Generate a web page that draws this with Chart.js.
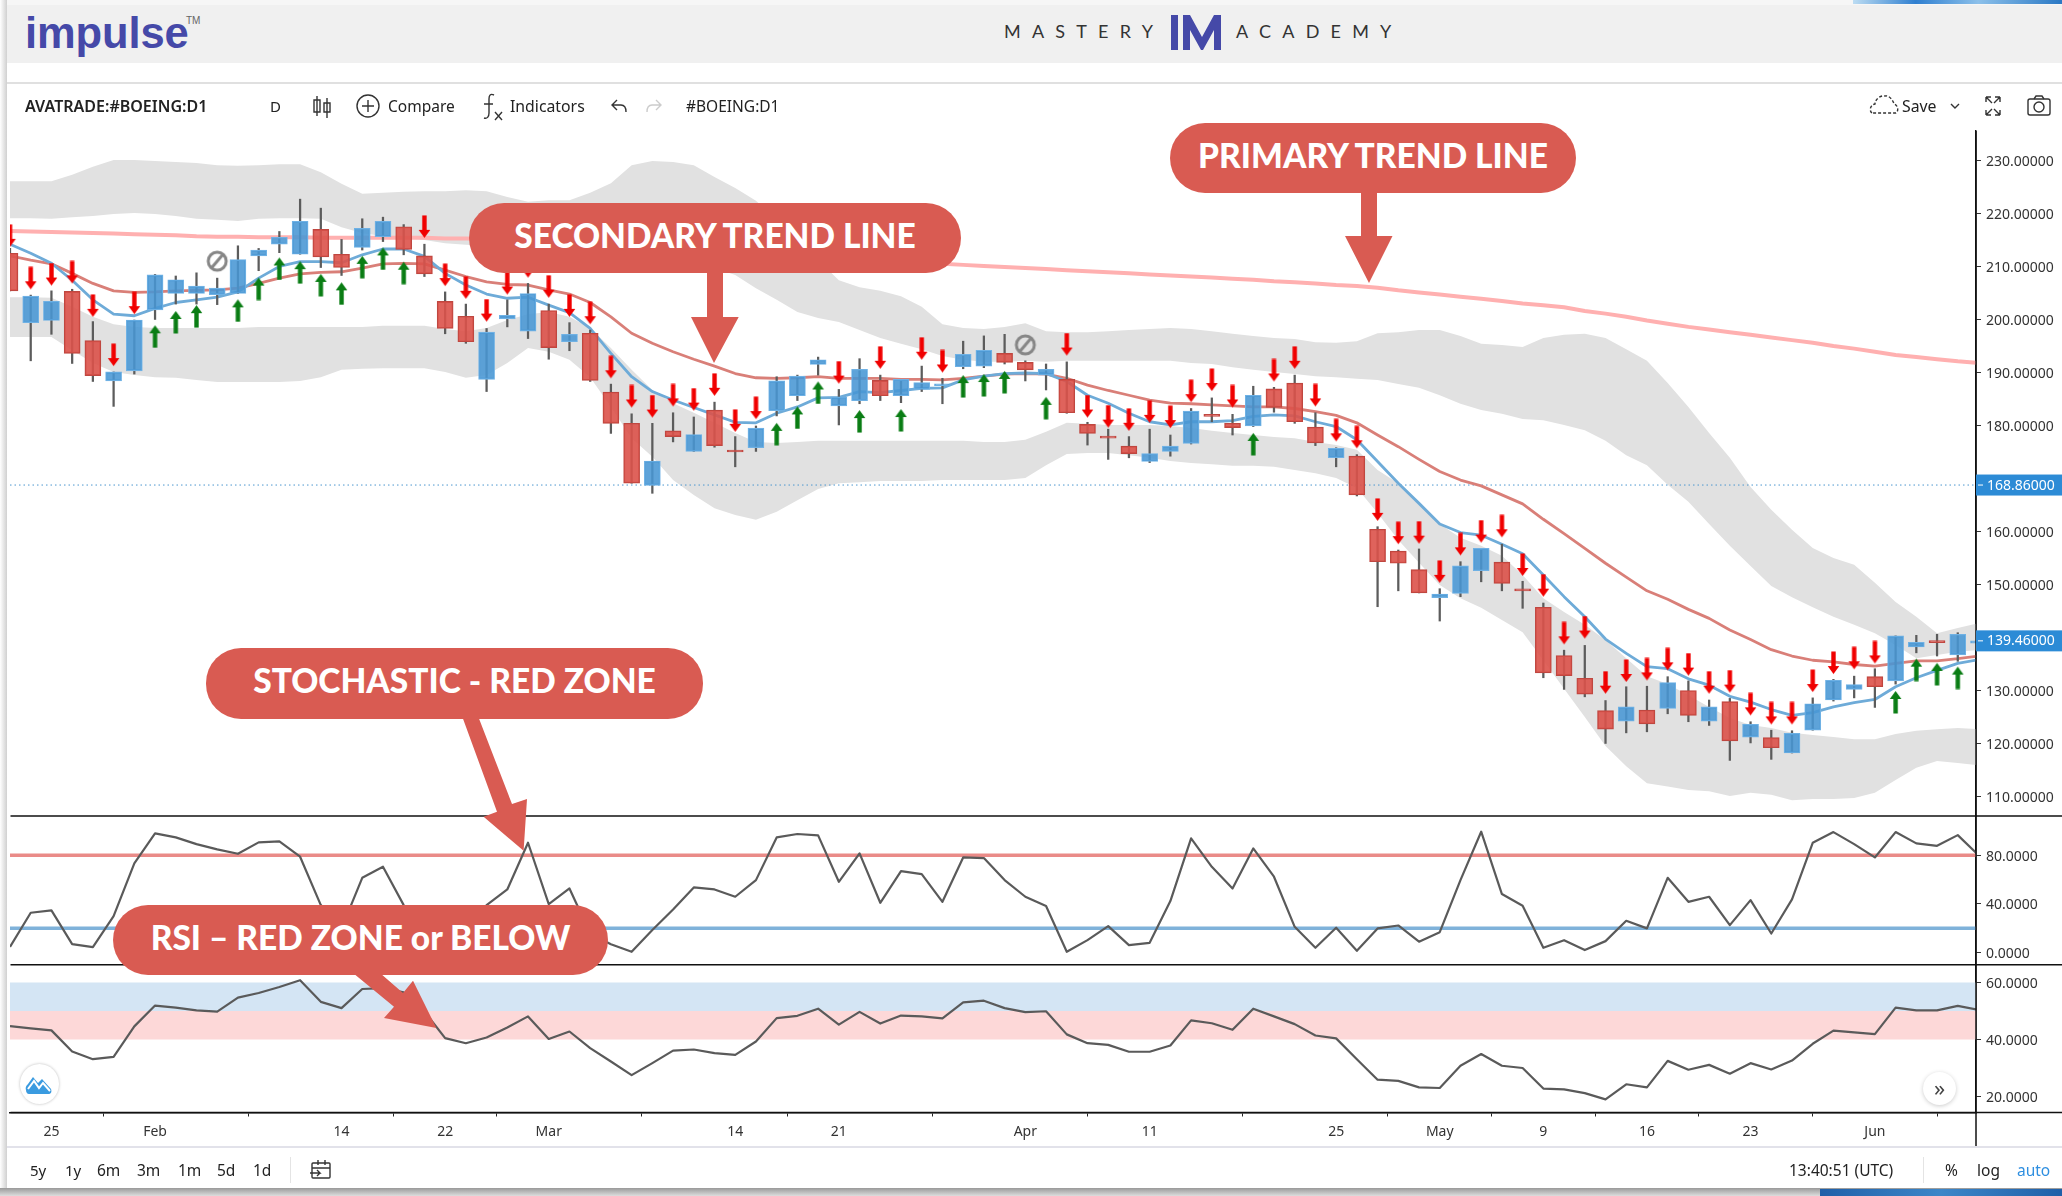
<!DOCTYPE html>
<html><head><meta charset="utf-8">
<script src="https://cdn.jsdelivr.net/npm/chart.js@4"></script>
<style>
html,body{margin:0;padding:0;background:#fff;width:2062px;height:1196px;overflow:hidden;font-family:"Noto Sans",sans-serif;color:#222}
canvas#c{position:absolute;left:0;top:0;z-index:1}
.a{position:absolute;white-space:nowrap;z-index:3}
.t{position:absolute;white-space:nowrap;z-index:3;font-size:15px;line-height:20px;color:#222}
.pill{position:absolute;z-index:5;background:#d95b52;color:#fff;font-family:Lato,sans-serif;font-weight:900;display:flex;align-items:center;justify-content:center;white-space:nowrap;box-sizing:border-box;padding-bottom:7px;font-size:33.5px}
svg.o{position:absolute;left:0;top:0;z-index:4;pointer-events:none}
</style></head><body>
<div class="a" style="left:0;top:0;width:2062px;height:5px;background:#f6f6f6"></div>
<div class="a" style="left:1853px;top:0;width:209px;height:4px;background:linear-gradient(to right,#bcdcf2,#2f7fd0 30%,#8cc0ea 60%,#2a78c4)"></div>
<div class="a" style="left:7px;top:5px;width:2055px;height:58px;background:#f0f0f0"></div>
<div class="a" style="left:0;top:0;width:7px;height:1196px;background:linear-gradient(to right,#fff,#d0d0d0)"></div>
<div class="a" style="left:7px;top:82px;width:2055px;height:1.5px;background:#e0e0e0"></div>
<div class="a" style="left:7px;top:1146px;width:2055px;height:1.5px;background:#e2e2ea"></div>
<div class="a" style="left:0;top:1188px;width:2062px;height:8px;background:linear-gradient(to bottom,#999,#ddd)"></div>
<div class="a" style="left:1820px;top:1189px;width:242px;height:7px;background:linear-gradient(to right,#1f5fa8,#3d86c8 50%,#1f5fa8)"></div>

<div class="a" style="left:25px;top:4px;font:bold 43.5px/58px 'Liberation Sans',sans-serif;color:#4549a8;letter-spacing:-.1px">impulse</div>
<div class="a" style="left:186px;top:15px;font:10px/12px 'Liberation Sans',sans-serif;color:#666">TM</div>
<div class="a" style="left:1004px;top:19px;font:18px/24px Lato,sans-serif;letter-spacing:11.2px;color:#333">MASTERY</div>
<div class="a" style="left:1236px;top:19px;font:18px/24px Lato,sans-serif;letter-spacing:11.2px;color:#333">ACADEMY</div>

<div class="t" style="left:25px;top:96px;font-weight:600;font-size:16px">AVATRADE:#BOEING:D1</div>
<div class="t" style="left:270px;top:96px">D</div>
<div class="t" style="left:388px;top:96px;font-size:15.5px">Compare</div>
<div class="t" style="left:510px;top:96px;font-size:15.8px">Indicators</div>
<div class="t" style="left:686px;top:96px;font-size:15.5px">#BOEING:D1</div>
<div class="t" style="left:1902px;top:96px;font-size:15.8px">Save</div>

<div class="t" style="left:30px;top:1160px;font-size:15px">5y</div>
<div class="t" style="left:65px;top:1160px;font-size:15px">1y</div>
<div class="t" style="left:97px;top:1160px;font-size:15.5px">6m</div>
<div class="t" style="left:137px;top:1160px;font-size:15.5px">3m</div>
<div class="t" style="left:178px;top:1160px;font-size:15.5px">1m</div>
<div class="t" style="left:217px;top:1160px;font-size:15.5px">5d</div>
<div class="t" style="left:253px;top:1160px;font-size:15.5px">1d</div>
<div class="a" style="left:290px;top:1157px;width:1px;height:26px;background:#e4e4e4"></div>
<div class="t" style="left:1789px;top:1160px;font-size:15.5px">13:40:51 (UTC)</div>
<div class="a" style="left:1923px;top:1157px;width:1px;height:26px;background:#e4e4e4"></div>
<div class="t" style="left:1945px;top:1160px;font-size:15.5px">%</div>
<div class="t" style="left:1977px;top:1160px;font-size:15.5px">log</div>
<div class="t" style="left:2017px;top:1160px;font-size:15.5px;color:#2f8fe0">auto</div>

<div class="a" style="left:20px;top:1064px;width:39px;height:40px;border-radius:50%;background:#fff;box-shadow:0 0 3px #bbb;z-index:4"></div>
<div class="a" style="left:1923px;top:1072px;width:33px;height:33px;border-radius:50%;background:#fff;box-shadow:0 1px 4px #ccc;z-index:4;text-align:center;font:22px/30px 'Noto Sans',sans-serif;color:#444">»</div>

<svg class="o" width="2062" height="1196" viewBox="0 0 2062 1196" fill="none" stroke="#333" stroke-width="1.4">
  <g fill="#4549a8" stroke="none"><rect x="1171" y="15" width="7" height="35"/><path d="M1183 15h7l12 22 12-22h7v35h-7V30l-11 20h-2l-11-20v20h-7z"/></g>
  <path d="M317 96v20M314 100h6v12h-6zM327 98v20M324 103h6v9h-6z"/>
  <circle cx="368" cy="106" r="11"/><path d="M362 106h12M368 100v12"/>
  <path d="M494 95c-4-2-5 1-5 4v14c0 4-2 6-5 5M484 104h9M495 112l7 8M502 112l-7 8"/>
  <path d="M617 100l-5 5 5 5M612 105h9c4 0 5 3 5 7"/>
  <path d="M656 100l5 5-5 5M661 105h-9c-4 0-5 3-5 7" stroke="#ccc"/>
  <path d="M1872 113c-3-2-2-8 3-9 0-5 6-9 10-8 4-1 8 4 9 8 4 1 5 7 2 9h-24z" stroke-dasharray="3 2"/>
  <path d="M1951 104l4 4 4-4"/>
  <path d="M1986 97l6 6M1986 97v5M1986 97h5M2000 97l-6 6M2000 97v5M2000 97h-5M1986 115l6-6M1986 115v-5M1986 115h5M2000 115l-6-6M2000 115v-5M2000 115h-5"/>
  <rect x="2028" y="99" width="22" height="16" rx="2"/><circle cx="2039" cy="107" r="5"/><path d="M2034 99l2-3h6l2 3"/>
  <rect x="312" y="1163" width="18" height="15" rx="1"/><path d="M312 1168h18M318 1160v5M325 1160v5M310 1173h10l-3-3M320 1173l-3 3"/>
  <path d="M26 1090c-1-3 1-5 2-6l5-7 5 6 4-4 9 10c1 3 0 5-3 5H29c-2 0-3-2-3-4z" fill="#3a9be0" stroke="none"/><path d="M28 1089l6-8 5 7 4-5 7 8" stroke="#fff" stroke-width="2"/>
  <g fill="#d95b52" stroke="none">
    <path d="M1361 190h16v46h15.5l-23.5 47-24-47h16z"/>
    <path d="M707 270h16v47h15.7L714 363l-23-46h16z"/>
    <path d="M462 716h16L512 804l15-5-3.4 51.7-40-34 13.4-5z"/>
    <path d="M353 973h27L403 993l10-12.3 23.4 47.3-52.4-10 10-11.3z"/>
  </g>
</svg>

<div class="pill" style="left:1170px;top:123px;width:406px;height:70px;border-radius:35px">PRIMARY TREND LINE</div>
<div class="pill" style="left:469px;top:203px;width:492px;height:70px;border-radius:35px">SECONDARY TREND LINE</div>
<div class="pill" style="left:206px;top:648px;width:497px;height:71px;border-radius:35px">STOCHASTIC - RED ZONE</div>
<div class="pill" style="left:113px;top:905px;width:495px;height:70px;border-radius:35px">RSI – RED ZONE or BELOW</div>

<canvas id="c" width="2062" height="1196"></canvas>
<script>
const open=[212.6,199.5,199.9,205.4,196.1,188.5,190.4,201.9,205,205,
204.8,205,212.1,214.3,212.4,217.1,212.4,213.7,215.7,217.6,
212.1,203.5,200.7,188.8,200.2,197.9,201.8,195.9,197.5,186.4,
180.5,168.8,179.1,175.2,183,175.4,175.9,182.9,185.7,191.6,
183.8,184.8,188.6,185.7,186.9,187.6,191.2,191.3,193.7,192,
189.6,188.8,180.3,178,176.2,173.3,175.2,176.7,182,180.5,
180,187,188.1,179.8,174,174.3,160.5,156.4,152.9,147.6,
148.4,152.7,154.3,149.2,145.8,136.7,132.4,126.3,124.3,126.4,
126.7,130.1,124.3,128,121.3,121.2,118.3,122.6,128.3,130.3,
132.7,131.9,138.3,139.5,136.8,139];
const close=[205.5,204.5,203.5,193.7,189.5,190.2,200,208.5,207.6,206.4,
206,211.4,213.2,215.6,218.6,211.9,209.9,217.3,218.6,213.3,
208.7,198.4,195.9,197.7,200.9,205,194.8,197.3,188.6,180.5,
169.2,173.4,178,178.4,176.3,175.1,179.6,188.5,189.4,192.5,
185.5,190.7,185.7,188.8,188.2,187.8,193.5,194.3,192,190.6,
190.7,182.5,178.6,177.7,174.8,174.8,176.2,182.8,181.8,179.7,
185.8,183.5,180.8,176.8,175.8,167,154.4,154.1,148.5,148.3,
153.6,156.9,150.3,148.9,133.4,132.9,129.4,122.8,127,123.8,
131.6,125.4,127,120.6,123.7,119.3,122,127.6,132,131.2,
130.8,140.4,139.2,139.1,140.7,139.46];
const high=[213.5,204.7,205.5,205.8,199.7,190.2,200,208.6,208.3,208.9,
207.9,214,213.5,216.7,222.8,221.1,215.2,219.1,219.4,218,
214.3,205.3,203,198.4,203.8,206.9,203,199.5,198.1,187.9,
182.3,180.5,182.5,181.7,184.5,178,180,189.3,189.6,193,
186.9,192.7,189.6,188.8,191.3,189,196,197,197.3,192.3,
191.7,192.1,180.7,179.4,178,179.4,178.3,183.3,185.3,182.2,
187.5,187.3,189.6,182.5,175.9,174.6,161,156.6,156.8,149.3,
154.4,156.9,157.7,150.7,146.6,137.7,138.6,128.2,130.8,130.9,
132.7,131.9,128.3,128.6,124.2,122.6,122.5,128.7,132.2,132.8,
134.2,140.4,140.5,140.7,141,140.5];
const low=[205.5,192.3,197.3,191.8,188.4,183.7,189.8,200.1,203,203,
202.9,205,209.3,212.7,212.4,209.9,208.4,213.2,214.8,212.3,
208.2,197.4,195.6,186.5,198.7,196.5,192.6,194.2,188.4,178.6,
169.2,167.3,177,175.2,176,172.3,175.2,181.9,184.8,189.6,
180.2,184.2,184.8,184.4,186.5,184.2,190.8,191,191.7,188.5,
186.8,182.4,176.4,173.7,174,173.1,174.3,176.6,180.8,178.3,
179.9,182.6,180.5,176.3,172.3,166.8,145.9,148.9,148.5,143.2,
147.8,150.6,148.9,145.6,132.5,130.3,128.9,120.1,122.1,122.3,
125.7,124.2,123.5,116.9,120.2,117.1,118.3,122.6,128.1,128.7,
126.9,131.3,137.2,136.6,135.6,136];
const upperBandTop=[226.2,226.2,226.2,227.4,228.9,230.2,230.2,230,229.8,229.6,
229.2,229.1,229.2,229.4,229.4,227.9,225.7,223.8,224,224.2,
224.3,224.3,224.5,224.3,223.2,222.3,222.6,222.6,224,225.8,
229.2,230,229.8,229.2,227,224.9,222.5,218.9,215.1,211.3,
207.5,206.2,205.5,204.5,202.5,199.2,198.5,198.3,198.7,199.4,
197.9,197.7,197.7,197.9,198.1,198.3,198.5,198.3,197.9,197.4,
197,196.6,196.4,195.8,195.7,196,197.5,197.7,198.1,198.1,
197,195.5,195.3,194.9,196.6,197.2,197.4,196.6,194.5,192.3,
188.1,183.6,178.7,174,168.5,164.2,160.4,157,155.1,153.8,
150.4,146.8,144,140.9,141.9,142.8];
const upperBandBottom=[219.2,219.2,219.1,219.4,219.6,220,220.2,220,219.6,219.1,
218.9,218.7,219.1,219.2,219.2,219.1,217.5,216.4,215.8,215.5,
215.1,214.5,214.2,214,213.6,213.2,213.2,212.8,212.6,212.5,
212.5,212.1,211.7,210.9,209.8,208.5,206,203.8,201.5,200.4,
199.6,198.1,196.6,195.5,194.5,193.2,192.5,192.1,192.1,192.3,
192.1,192.3,192.3,192.3,192.3,192.3,192.3,191.9,191.7,191.1,
190.6,190.2,189.8,189.4,189.2,188.9,188.7,187.9,187.2,185.8,
184.2,183,182.3,181.3,181.1,180.2,179.2,177.2,174.5,172.6,
168.9,165.7,161.5,157.4,153.6,149.8,147.7,145.8,144,142.5,
140.9,138.7,136.2,136.8,137.4,137.7];
const lowerBandTop=[204.3,204.3,204.2,202.5,200.6,199.2,198.7,198.5,198.5,198.5,
198.5,198.5,198.7,198.7,198.7,198.7,198.7,198.7,198.9,198.9,
198.9,198.3,197.9,198.5,200,201.1,201.5,200.6,198.5,194.7,
190.6,186.8,184.3,182.5,180.6,178.7,177,176.8,177,177.2,
177.2,177.2,177.2,177.2,177.2,177.2,177.2,177,177,177.4,
178.9,180.6,180.4,180.2,180.2,180.2,180,179.6,179.1,178.7,
178.3,177.9,177.7,177,176.4,175.5,171.7,169.2,165.5,161.5,
158.9,157.4,155.5,151.9,147.5,144.9,142.5,139.6,136.2,132.8,
131.3,129.2,127,124.9,123.6,123,122.1,121.7,121.3,120.9,
120.9,121.9,122.5,122.8,123,122.8];
const lowerBandBottom=[196.8,196.8,196.8,194.3,191.9,190.2,189.6,189.2,189.1,188.7,
188.3,188.3,188.3,188.3,188.5,189.2,190.6,190.8,190.9,190.9,
190.9,190.2,189.1,189.6,191.9,194.7,194,192.5,189.2,183.6,
177.7,174.2,169.8,167,164.5,163.2,162.3,163.8,166,168.1,
169.2,169.4,169.6,169.6,169.6,169.8,169.8,169.8,169.8,170.2,
172.6,174.7,174.9,174.9,174.5,174,173.4,173,172.8,172.5,
172.5,172.3,171.7,171.1,170.2,168.3,163.6,158.5,154.2,150,
147.5,145.7,143.4,141.1,135.8,130.4,125.1,119.6,115.8,112.6,
112,111.3,111.1,110.2,110.8,110.4,109.4,109.6,109.6,109.8,
110.8,113.2,115.5,116.8,116.4,116];
const primaryTrend=[216.8,216.7,216.6,216.5,216.4,216.3,216.2,216.1,216,215.8,
215.7,215.7,215.6,215.6,215.6,215.5,215.5,215.5,215.5,215.5,
215.5,215.4,215.4,215.3,215.3,215.1,214.9,214.7,214.4,214.2,
214,213.8,213.5,213.3,213.1,212.9,212.6,212.4,212.2,212,
211.7,211.5,211.3,211.1,210.8,210.6,210.4,210.2,210,209.8,
209.6,209.4,209.2,209,208.8,208.6,208.4,208.2,208,207.8,
207.6,207.3,207.1,206.9,206.6,206.4,206.1,205.6,205.2,204.8,
204.4,204,203.6,203.1,202.8,202.4,201.7,201.2,200.6,199.9,
199.3,198.7,198.2,197.7,197.2,196.7,196.2,195.7,195.1,194.6,
194,193.4,193,192.6,192.2,191.9];
const fastLine=[214.3,212.6,210.7,207.5,203.8,201.1,200.8,202.2,203.3,203.8,
204.3,205.3,207.9,210.1,211,211,210.8,212.3,213.4,213.4,
212,208.8,206.6,204.9,204.1,204.3,202.8,201.4,198.4,193.7,
189.3,186.5,184.9,183.5,182.1,180.7,180.6,182.4,183.6,185.3,
185.4,186.5,186.3,186.7,187.1,187.2,188.7,189.4,189.9,190,
189.9,188.4,185.8,184.3,182.4,180.8,180.2,180.8,180.8,181,
181.8,182.1,181.9,180.8,179.9,177.4,173.3,169.2,165.4,161.5,
159.9,159.4,157.7,155.9,151.9,147.8,144,139.8,137.1,134.6,
134.2,132.3,131.1,129,127.9,126.5,125.4,125.9,127,127.8,
128.4,130.8,132.5,133.9,135.2,135.9];
const secondaryTrend=[212.1,211.3,210.6,208.8,206.9,205.5,205.2,205.3,205.5,205.6,
205.7,206,206.9,207.9,208.7,209,209.1,209.8,210.6,210.7,
210.6,209.4,208.2,207.2,206.7,206.6,205.7,204.9,203.3,200.6,
197.5,195.6,194,192.6,191.3,189.9,189.1,189,189.1,189.3,
189,189,189,188.8,188.8,188.7,189,189.4,189.8,189.9,
189.8,189,187.7,186.7,185.8,184.9,184.3,184.2,184,183.8,
183.6,183.6,183.3,182.7,182,180.6,178.3,176.1,173.7,171.4,
169.8,168.7,167,165.3,162.4,159.7,156.9,154.1,151.5,148.9,
147.3,145.4,143.7,141.5,139.7,137.8,136.6,135.8,135.5,135,
134.7,135.2,135.7,135.7,136.1,136.6];
const stochastic=[4.6,32.7,34.6,6.8,4.4,29.9,73.4,98.1,94.8,89.3,
84.9,81.3,90.7,91.5,78.9,39,19.8,61.5,70.6,39,
18.4,4.6,15.6,39,51.9,90.4,39.8,52.7,15.6,6.8,
0.5,18.4,35.4,53.6,51.9,45.9,59.6,94.8,97.6,96.5,
58.2,81.6,40.9,67,64.6,41.7,78.3,77.8,59.6,45.9,
38.2,0.5,10.1,21.7,6,7.9,42.3,94,70.6,52.7,
85.7,62.4,21.1,3.8,20.3,1.3,19.8,22.2,8.8,16.7,
59.6,99.5,48.1,38.5,3.8,10.1,1.9,9.3,26.1,19.8,
61.5,41.7,45.9,22.5,43.1,15.6,43.7,90.4,99.2,89.3,
78.3,99.2,89.9,87.9,96.7,80.2];
const rsi=[44.7,43.9,43.2,35.8,33.1,33.9,44.6,51.9,51.2,50.2,
49.8,54.7,56.3,58.4,60.8,53.2,51,57.7,58,56.5,
49.8,40.5,38.7,40.7,44.2,48.1,40.2,42.8,37,32.3,
27.5,31.7,36.1,36.5,35.2,34.6,39.3,47.5,48.3,50.8,
45.2,49.7,45.6,48.4,48.1,47.4,53,53.6,51,49.6,
49.9,41.8,38.7,38.1,35.7,35.7,37.9,46.7,45.7,43.4,
50.8,48.1,45.4,41.4,40.4,33.1,25.9,25.5,23.2,23,
30.8,34.9,30.8,30,22.8,22.5,21.2,19,24.3,23.2,
32.5,29.4,31.1,28,31.7,29.5,32.6,38.5,43.1,42.5,
41.9,51.2,50.2,50.2,51.8,50.4];
const sellBars=[0,1,2,3,4,5,6,20,21,22,23,24,25,26,27,28,29,30,31,32,33,34,35,36,40,42,44,45,51,52,53,54,55,56,57,58,59,61,62,63,64,65,66,67,68,69,70,71,72,73,74,75,76,77,78,79,80,81,82,83,84,85,86,87,88,89,90];
const sellTips=[213.8,205.8,206.5,206.9,200.6,191.3,201.1,215.5,206.4,204,199.7,204.8,208,204.2,200.6,199.2,189,183.5,181.6,183.7,182.9,185.7,178.9,181.3,188,190.8,192.5,190.1,193.3,181.6,179.7,179.1,180.6,179.6,184.5,186.6,183.5,188.4,190.8,183.7,177.1,175.8,162.1,157.7,157.8,150.4,155.6,158,159,151.7,147.8,138.8,139.9,129.5,131.7,132,133.9,132.9,129.5,129.7,125.4,123.7,123.7,129.8,133.2,134.1,135.2];
const buyBars=[7,8,9,11,12,13,14,15,16,17,18,19,37,38,39,41,43,46,47,48,50,60,91,92,93,94];
const buyTips=[199,201.7,202.8,203.9,208,211.8,211.1,208.7,207.1,212.1,213.7,211,180.6,183.7,188.4,183,183.2,189.6,189.8,190.4,185.5,178.7,130,136.1,135.3,134.6];
const neutralBars=[10,49];
const neutralLevels=[211.1,195.3];
const xTickBars=[2,7,16,21,26,35,40,49,55,64,69,74,79,84,90];
const xTickLabels=['25','Feb','14','22','Mar','14','21','Apr','11','25','May','9','16','23','Jun'];
const priceTicks=[110,120,130,150,160,180,190,200,210,220,230];
const stochTicks=[0,40,80];
const rsiTicks=[20,40,60];
const priceLevels=[168.86,139.46];
const stochLevels=[80,20];
const rsiZones=[60,50,40];
const lastBar=94.88;

const series=a=>a.map((y,x)=>({x,y}));
const flat=v=>[{x:0,y:v},{x:95,y:v}];
function arrowImg(down,color){
  const w=13,h=46,c=document.createElement('canvas');c.width=w;c.height=h;
  const g=c.getContext('2d');g.fillStyle=color;
  const m=w/2;
  g.beginPath();
  if(down){g.moveTo(m,23);g.lineTo(m+5.8,15);g.lineTo(m+2.2,15);g.lineTo(m+2.2,0.5);g.lineTo(m-2.2,0.5);g.lineTo(m-2.2,15);g.lineTo(m-5.8,15);}
  else{g.moveTo(m,23);g.lineTo(m+5.8,31);g.lineTo(m+2.2,31);g.lineTo(m+2.2,45.5);g.lineTo(m-2.2,45.5);g.lineTo(m-2.2,31);g.lineTo(m-5.8,31);}
  g.closePath();g.fill();return c;
}
function neutralImg(){
  const c=document.createElement('canvas');c.width=24;c.height=24;
  const g=c.getContext('2d');g.strokeStyle='#868686';g.lineWidth=3;
  g.beginPath();g.arc(12,12,9,0,Math.PI*2);g.stroke();
  g.beginPath();g.moveTo(17.5,5.5);g.lineTo(6.5,18.5);g.stroke();return c;
}
const BLUE='rgba(72,150,212,.88)',BLUEB='#6fb1e4',RED='rgba(220,82,74,.9)',REDB='#bf4740';
const up=open.map((o,i)=>close[i]>=o);
const lineDs=(data,color,w,order,axis='y')=>({type:'line',data,borderColor:color,borderWidth:w,pointRadius:0,tension:0,fill:false,order,yAxisID:axis,borderJoinStyle:'round'});
const bandDs=(data,fill,color,order,axis='y')=>({type:'line',data,borderWidth:0,borderColor:'transparent',pointRadius:0,tension:0,fill,backgroundColor:color,order,yAxisID:axis});
const markDs=(bars,vals,img)=>({type:'line',data:bars.map((x,i)=>({x,y:vals[i]})),showLine:false,pointStyle:img,pointRadius:8,order:1,yAxisID:'y'});

const axisText={font:{family:'"Noto Sans"',size:14},color:'#333'};
const yAxis=(min,max,w,vals,dec)=>({type:'linear',position:'right',stack:'panes',stackWeight:w,min,max,
  afterBuildTicks:s=>{s.ticks=vals.map(value=>({value}));},
  afterFit:s=>{s.width=86;},
  ticks:{...axisText,autoSkip:false,padding:5,labelOffset:1.5,callback:v=>v.toFixed(dec)},
  grid:{drawOnChartArea:false,tickLength:5,color:'#333'},border:{color:'#111',width:1.5}});

const paneLines={id:'paneLines',afterDraw(ch){
  const g=ch.ctx,s=ch.scales,ca=ch.chartArea;
  g.save();
  g.strokeStyle='#111';g.lineWidth=1.5;
  [s.y.bottom,s.y2.bottom,s.y3.bottom].forEach(p=>{g.beginPath();g.moveTo(ca.left+.5,p);g.lineTo(2062,p);g.stroke();});
  g.beginPath();g.moveTo(ca.right,s.y.top);g.lineTo(ca.right,1146);g.stroke();
  priceLevels.forEach(v=>{
    const p=s.y.getPixelForValue(v);
    g.fillStyle='#2c8bd6';g.fillRect(ca.right,p-10.5,86,21);
    g.strokeStyle='#fff';g.lineWidth=1;g.beginPath();g.moveTo(ca.right+2,p);g.lineTo(ca.right+7,p);g.stroke();
    g.fillStyle='#fff';g.font='14px "Noto Sans"';g.textBaseline='middle';g.textAlign='left';
    g.fillText(v.toFixed(5),ca.right+11,p+.5);
  });
  g.restore();
}};

new Chart(document.getElementById('c'),{
  type:'bar',
  plugins:[paneLines],
  data:{datasets:[
    bandDs(series(upperBandTop),'+1','#e1e1e1',30),
    bandDs(series(upperBandBottom),false,'transparent',30),
    bandDs(series(lowerBandTop),'+1','#e1e1e1',30),
    bandDs(series(lowerBandBottom),false,'transparent',30),
    {type:'line',data:flat(priceLevels[0]),borderColor:'#4c97cf',borderWidth:1,borderDash:[1.5,3],pointRadius:0,order:25,yAxisID:'y'},
    lineDs(series(primaryTrend),'#ffb0b0',4,20),
    lineDs(series(secondaryTrend),'#d97f78',2.8,19),
    lineDs(series(fastLine),'#6eabd8',2.8,18),
    {type:'bar',grouped:false,data:high.map((h,i)=>({x:i,y:[low[i],h]})),barThickness:1.6,backgroundColor:'#5c5c5c',borderWidth:0,order:10,yAxisID:'y'},
    {type:'bar',grouped:false,data:open.map((o,i)=>({x:i,y:[Math.min(o,close[i]),Math.max(o,close[i])]})),barThickness:16,
      minBarLength:2,backgroundColor:up.map(u=>u?BLUE:RED),borderColor:up.map(u=>u?BLUEB:REDB),borderWidth:1.2,borderSkipped:false,order:9,yAxisID:'y'},
    markDs(sellBars,sellTips,arrowImg(true,'#f00000')),
    markDs(buyBars,buyTips,arrowImg(false,'#0a7d14')),
    markDs(neutralBars,neutralLevels,neutralImg()),
    lineDs(flat(stochLevels[0]),'#ea8b88',3.5,8,'y2'),
    lineDs(flat(stochLevels[1]),'#7fb2da',3.5,8,'y2'),
    lineDs(series(stochastic),'#5a5a5a',2.2,5,'y2'),
    bandDs(flat(rsiZones[0]),'+1','#d4e5f4',8,'y3'),
    bandDs(flat(rsiZones[1]),'+1','#fdd8d8',8,'y3'),
    bandDs(flat(rsiZones[2]),false,'transparent',8,'y3'),
    lineDs(series(rsi),'#5a5a5a',2.2,5,'y3')
  ]},
  options:{
    responsive:false,animation:false,
    layout:{padding:{top:131,bottom:50,left:10,right:0}},
    plugins:{legend:{display:false},tooltip:{enabled:false}},
    elements:{point:{hoverRadius:0}},
    scales:{
      x:{type:'linear',min:0,max:lastBar,offset:false,
        afterBuildTicks:s=>{s.ticks=xTickBars.map(value=>({value}));},
        afterFit:s=>{s.height=33.5;s.paddingLeft=0;s.paddingRight=0;},
        ticks:{...axisText,autoSkip:false,maxRotation:0,padding:7,callback:v=>xTickLabels[xTickBars.indexOf(v)]},
        grid:{drawOnChartArea:false,tickLength:4,color:'#222'},border:{color:'#111',width:1.5}},
      y:yAxis(106.4,235.66,685,priceTicks,5),
      y2:yAxis(-10.2,112.4,148.7,stochTicks,4),
      y3:yAxis(14.4,66.2,147.7,rsiTicks,4)
    }
  }
});
</script>
</body></html>
